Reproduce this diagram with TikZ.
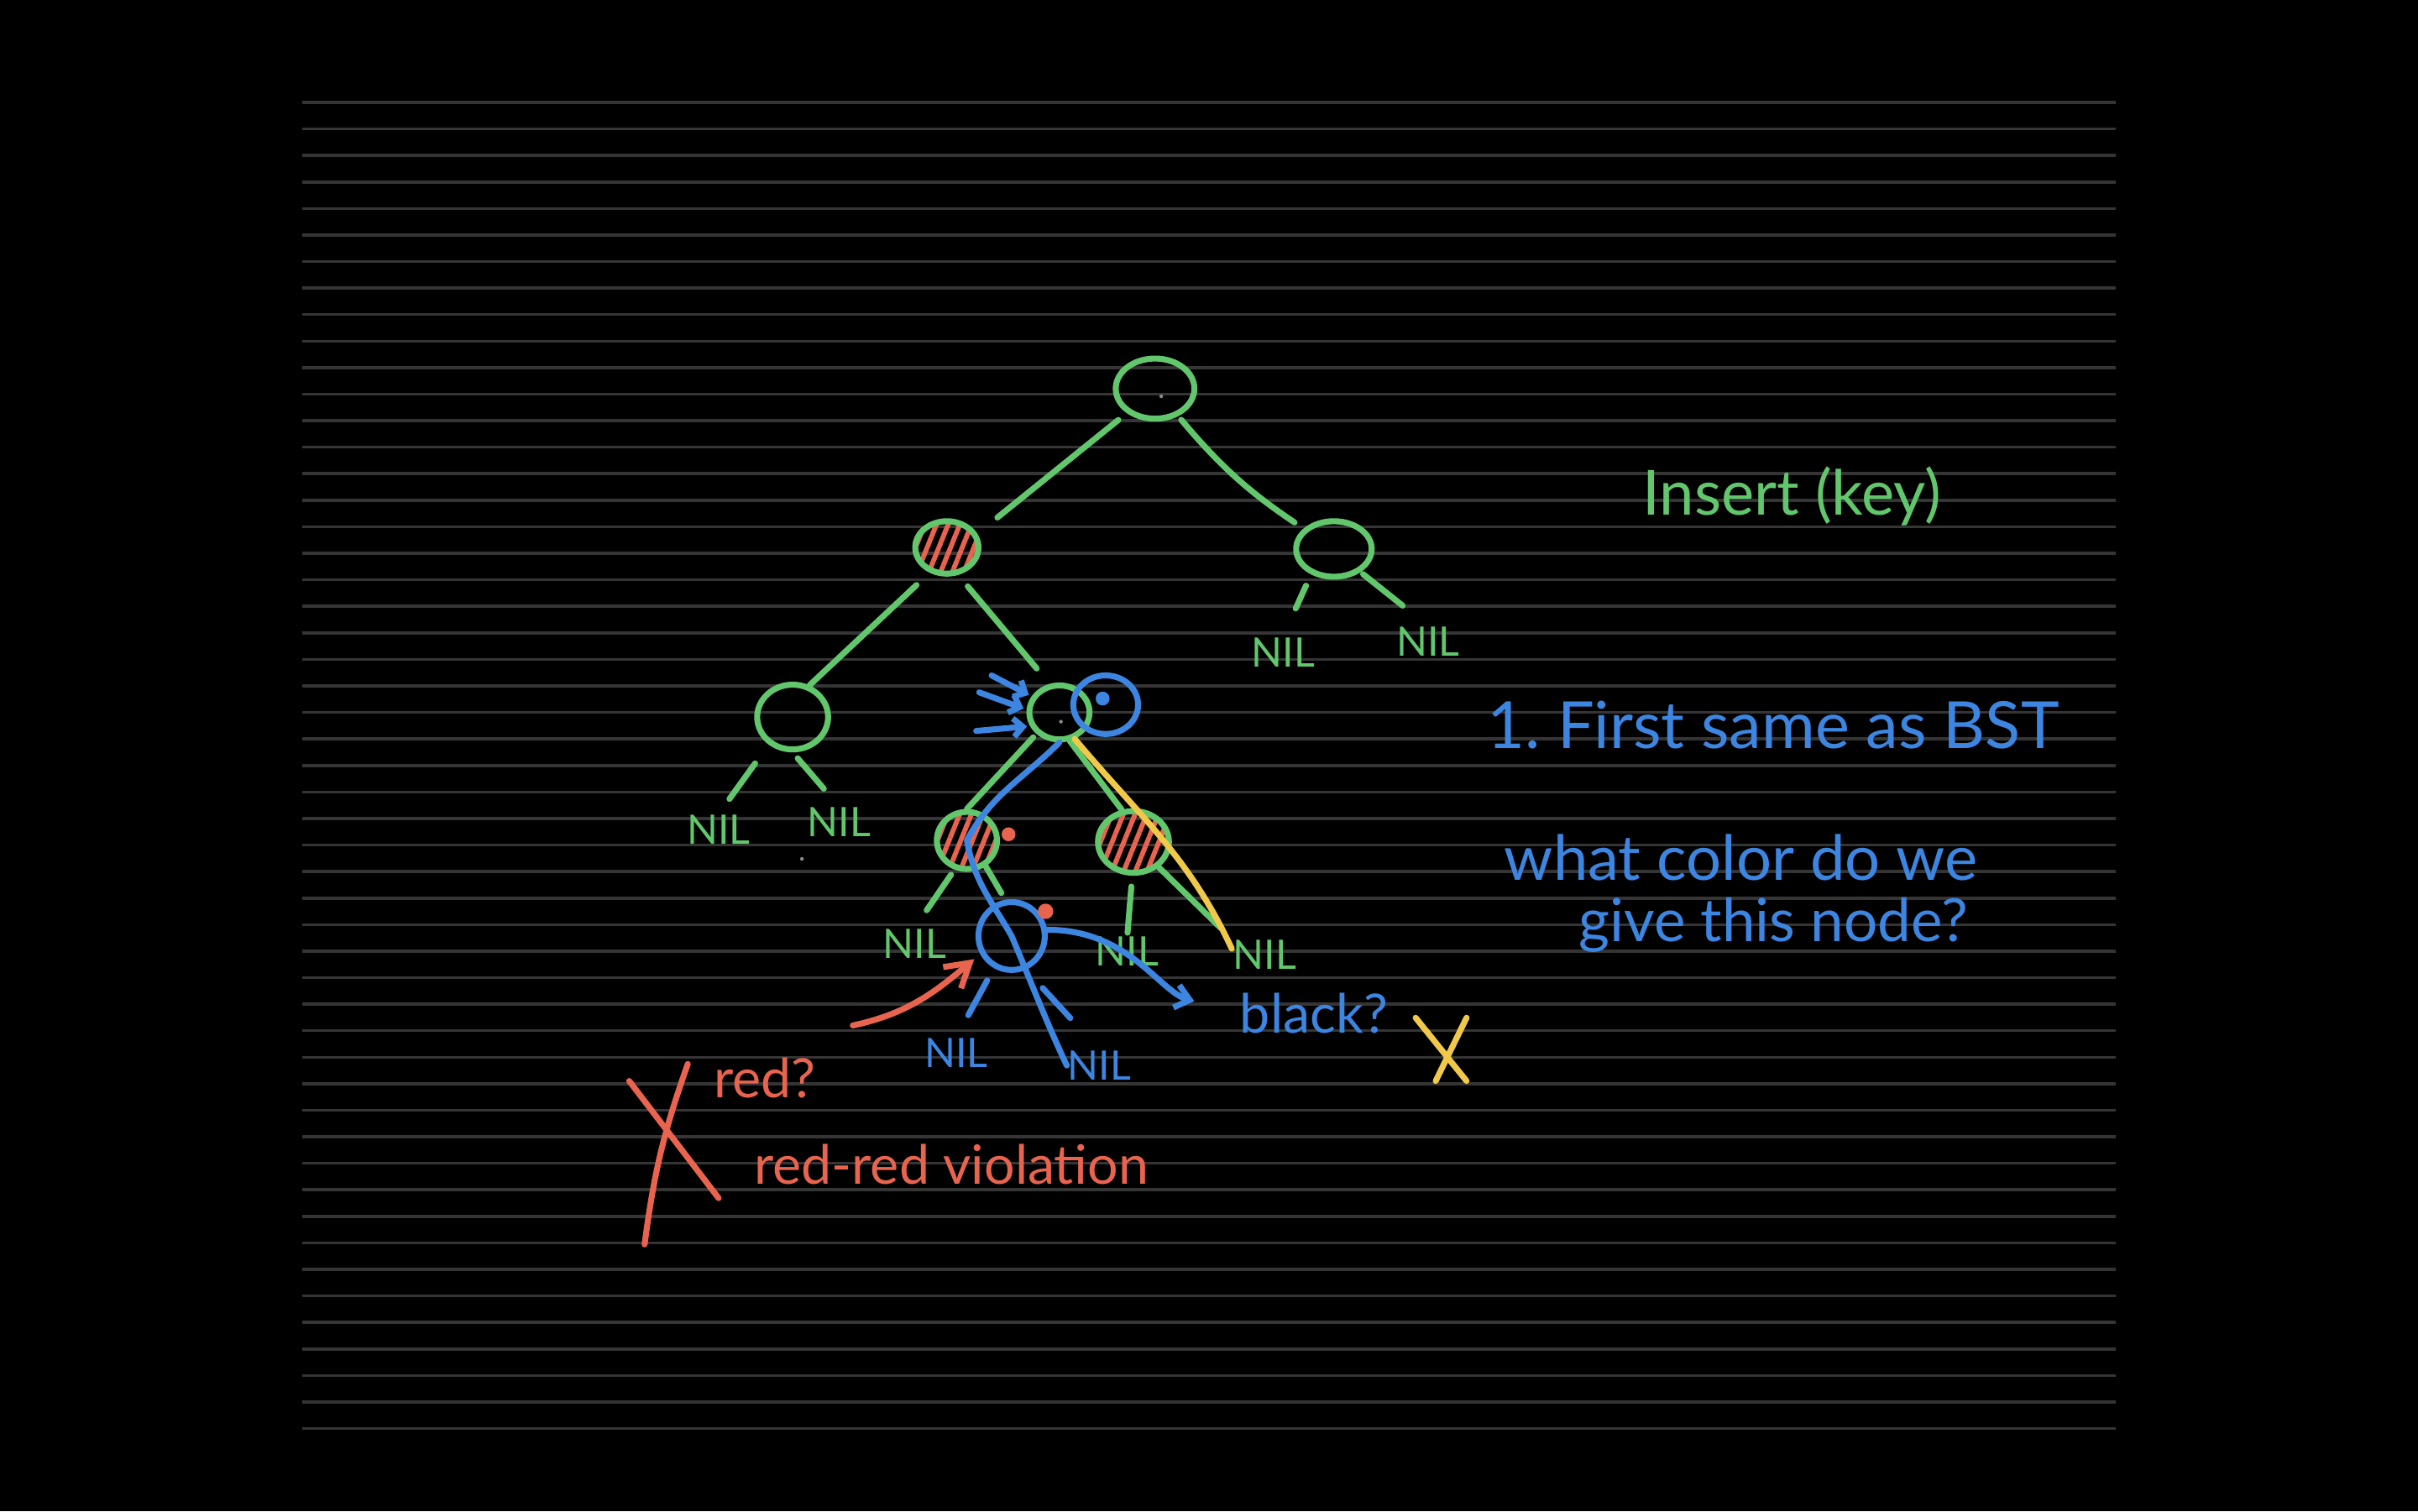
\documentclass[tikz,border=0pt]{standalone}
\usepackage{fontspec}
\setmainfont{Lato}
\usetikzlibrary{arrows.meta, positioning, shapes.geometric, patterns.meta}
\definecolor{rulec}{HTML}{353535}
\definecolor{peng}{HTML}{62C76C}
\definecolor{penb}{HTML}{3C86E2}
\definecolor{penr}{HTML}{E9644F}
\definecolor{peny}{HTML}{F1C94A}
\tikzset{
  ruling/.style={draw=rulec, line width=0.55pt},
  pen/.style={line width=1.1pt, line cap=round, line join=round},
  gnode/.style={ellipse, draw=peng, pen, inner sep=0pt},
  rnode/.style={gnode, pattern={Lines[angle=68, distance=2pt, line width=0.9pt]}, pattern color=penr},
  bnode/.style={ellipse, draw=penb, pen, inner sep=0pt},
  branch/.style={pen, draw=peng},
  bbranch/.style={pen, draw=penb},
  nil/.style={font=\fontsize{7.5}{8}\selectfont, inner sep=0pt},
  hand/.style={font=\fontsize{11.5}{14}\selectfont, inner sep=0pt},
  note/.style={font=\fontsize{10}{12}\selectfont, inner sep=0pt},
  hint/.style={pen, draw=penb, -{Straight Barb[length=0.6mm, width=1.2mm]}},
  ask/.style={pen, -{Straight Barb[length=1.5mm, width=1.8mm]}},
}

\begin{document}
\begin{tikzpicture}[x=1cm, y=1cm]
\fill[black] (0,0) rectangle (15.68,9.80);
\useasboundingbox (0,0) rectangle (15.68,9.80);

% ---------------- ruled page ----------------
\foreach \i in {0,...,50} {
  \draw[ruling] (1.96,{9.136-0.172*\i}) -- (13.72,{9.136-0.172*\i});
}

% ---------------- tree ----------------
\node[gnode, minimum width=0.51cm, minimum height=0.39cm] (root) at (7.49,7.28) {};
\node[rnode, minimum width=0.41cm, minimum height=0.34cm] (lft) at (6.14,6.25) {};
\node[gnode, minimum width=0.49cm, minimum height=0.36cm] (rgt) at (8.65,6.24) {};
\node[gnode, minimum width=0.46cm, minimum height=0.42cm] (ll) at (5.14,5.15) {};
\node[gnode, minimum width=0.39cm, minimum height=0.35cm] (lr) at (6.87,5.18) {};
\node[rnode, minimum width=0.39cm, minimum height=0.37cm] (lrl) at (6.27,4.35) {};
\node[rnode, minimum width=0.46cm, minimum height=0.40cm] (lrr) at (7.35,4.34) {};
\node[bnode, minimum width=0.43cm, minimum height=0.44cm] (newn) at (6.56,3.73) {};
\node[bnode, minimum width=0.42cm, minimum height=0.38cm] (pick) at (7.17,5.23) {};
\fill[penb] (7.15,5.27) circle (0.045);
\fill[black!45] (7.53,7.23) circle (0.012);
\fill[black!45] (6.88,5.12) circle (0.012);
\fill[black!45] (5.20,4.23) circle (0.012);
\fill[penr] (6.54,4.39) circle (0.045);
\fill[penr] (6.78,3.89) circle (0.05);

\foreach \n/\x/\y/\c in {nila/8.32/5.57/peng, nilb/9.26/5.64/peng,
    nilc/4.66/4.42/peng, nild/5.44/4.47/peng, nile/5.93/3.68/peng,
    nilf/7.31/3.63/peng, nilg/8.20/3.61/peng, nilh/6.20/2.97/penb, nili/7.13/2.89/penb} {
  \node[nil, text=\c] (\n) at (\x,\y) {NIL};
}

\draw[branch, shorten <=0.07cm, shorten >=0.17cm] (root.221) -- (lft.24);
\draw[branch, shorten <=0.03cm, shorten >=0.07cm] (root.310) to[bend right=8] (rgt.146);
\draw[branch, shorten <=0.08cm, shorten >=0.2cm] (rgt.228) -- (nila.north);
\draw[branch, shorten <=0.02cm, shorten >=0.21cm] (rgt.319) -- (nilb.north);
\draw[branch, shorten <=0.12cm] (lft.236) -- (ll.62);
\draw[branch, shorten <=0.10cm, shorten >=0.13cm] (lft.292) -- (lr.109);
\draw[branch, shorten <=0.15cm, shorten >=0.12cm] (ll.229) -- (nilc.north);
\draw[branch, shorten <=0.05cm, shorten >=0.15cm] (ll.270) -- (nild.north);
\draw[branch, shorten <=0.03cm] (lr.223) -- (lrl.north);
\draw[branch] (lr.290) -- (lrr.110);
\draw[branch, shorten <=0.04cm, shorten >=0.14cm] (lrl.247) -- (nile.north);
\draw[branch, shorten >=0.05cm] (lrl.306) -- (newn.100);
\draw[branch, shorten <=0.07cm, shorten >=0.02cm] (lrr.268) -- (nilf.north);
\draw[branch, shorten >=0.1cm] (lrr.315) -- (nilg.north west);
\draw[bbranch, shorten <=0.09cm, shorten >=0.165cm] (newn.241) -- (nilh.north);
\draw[bbranch, shorten <=0.16cm, shorten >=0.28cm] (newn.293) -- (nili.north);

% ---------------- search path ----------------
\draw[pen, peny] (lr.300) to[out=-50, in=115] (nilg.170);
\draw[bbranch] (lr.south) to[out=225, in=62] (lrl.center)
  to[out=280, in=120] (newn.center) to[out=-67, in=115] (nili.west);
\foreach \tx/\ty/\a in {6.43/5.42/150, 6.35/5.31/175, 6.33/5.06/205} {
  \draw[hint, shorten >=0.02cm] (\tx,\ty) -- (lr.\a);
}

% ---------------- which colour ----------------
\node[note, text=penb] (black) at (8.52,3.23) {black?};
\node[note, text=penr] (redq) at (4.96,2.81) {red?};
\node[note, text=penr] (viol) at (6.17,2.25) {red-red violation};
\draw[ask, penb, -{Straight Barb[length=0.9mm, width=1.5mm]}, shorten >=0.3cm] (newn.10) to[out=0, in=165] (black.west);
\coordinate (redtail) at (5.53,3.15);
\draw[ask, penr, shorten >=0.05cm] (redtail) to[out=12, in=220] (newn.210);
\draw[pen, penr] (4.46,2.90) to[bend right=6] (4.18,1.73);
\draw[pen, penr] (4.08,2.79) -- (4.66,2.03);
\draw[pen, peny] (9.18,3.20) -- (9.51,2.79);
\draw[pen, peny] (9.51,3.20) -- (9.31,2.79);

% ---------------- notes ----------------
\node[hand, text=peng] (title) at (11.62,6.58) {Insert (key)};
\node[hand, text=penb, font=\fontsize{12}{14}\selectfont] (step) at (11.50,5.10) {1.\ First same as BST};
\node[hand, text=penb] (askA) at (11.29,4.24) {what color do we};
\node[hand, text=penb, font=\fontsize{11}{14}\selectfont] (askB) at (11.50,3.80) {give this node?};

\end{tikzpicture}
\end{document}
